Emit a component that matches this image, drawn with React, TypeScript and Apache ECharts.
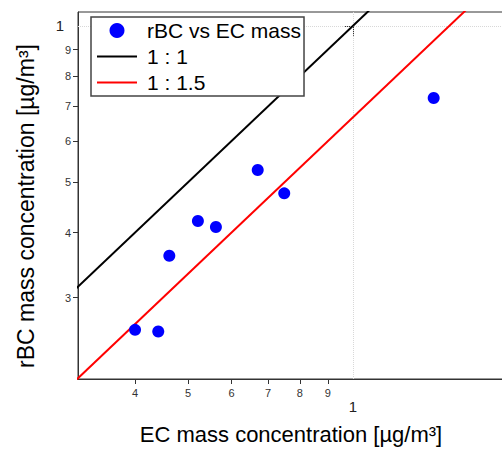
import React, { useEffect, useRef } from "react";
import * as echarts from "echarts";

// EC mass concentration (x) and rBC mass concentration (y), µg/m³
const ecMass = [0.4, 0.441, 0.462, 0.521, 0.562, 0.67, 0.749, 1.404];
const rbcMass = [0.26, 0.258, 0.361, 0.421, 0.41, 0.528, 0.476, 0.726];

// reference lines rBC = EC / ratio
const refLineNames = ["1 : 1", "1 : 1.5"];
const refLineRatios = [1, 1.5];
const refLineColors = ["#000000", "#ff0000"];
const refLineX = [0.25, 2.2];

// tick labels
const xMinorTicks = [0.4, 0.5, 0.6, 0.7, 0.8, 0.9];
const yMinorTicks = [0.3, 0.4, 0.5, 0.6, 0.7, 0.8, 0.9];
const majorTicks = [1];

// axis ranges (data units)
const xRange = [0.3147, 1.887];
const yRange = [0.2091, 1.063];

const L = (v: number) => Math.log10(v);
const FONT = "'Liberation Sans', Arial, Helvetica, sans-serif";
const AXIS_COLOR = "#333";
const LINE_ICON = "path://M0,0H40V2.2H0Z";

export default function App() {
  const ref = useRef<HTMLDivElement>(null);

  useEffect(() => {
    if (!ref.current) return;
    const chart = echarts.init(ref.current, undefined, { renderer: "svg" });

    const xMin = L(xRange[0]);
    const xMax = L(xRange[1]);
    const yMin = L(yRange[0]);
    const yMax = L(yRange[1]);

    const minorFmt = (v: number) => String(Math.round(Math.pow(10, v) * 10));
    const majorFmt = (v: number) => String(Math.round(Math.pow(10, v)));

    const baseX = {
      type: "value",
      min: xMin,
      max: xMax,
      position: "bottom",
      splitLine: { show: false },
      axisLine: { show: true, onZero: false, lineStyle: { color: AXIS_COLOR, width: 1 } },
    };
    const baseY = {
      type: "value",
      min: yMin,
      max: yMax,
      position: "left",
      splitLine: { show: false },
      axisLine: { show: true, onZero: false, lineStyle: { color: AXIS_COLOR, width: 1 } },
    };

    const option: any = {
      animation: false,
      backgroundColor: "#fff",
      textStyle: { fontFamily: FONT },
      grid: {
        left: 78,
        top: 12,
        width: 426,
        height: 367,
        containLabel: false,
        outerBoundsMode: "none",
        show: true,
        borderColor: AXIS_COLOR,
        borderWidth: 1,
        backgroundColor: "transparent",
      },
      legend: {
        orient: "vertical",
        left: 91,
        top: 17,
        data: [
          { name: "rBC vs EC mass", icon: "circle" },
          ...refLineNames.map((n) => ({ name: n, icon: LINE_ICON })),
        ],
        itemWidth: 40,
        itemHeight: 15,
        itemGap: 5,
        padding: [3, 3, 3, 6],
        backgroundColor: "#fff",
        borderColor: "#444",
        borderWidth: 1.5,
        borderRadius: 0,
        textStyle: { fontSize: 21, color: "#000", fontFamily: FONT, padding: [0, 0, 0, 5] },
      },
      xAxis: [
        {
          ...baseX,
          name: "EC mass concentration [µg/m³]",
          nameLocation: "middle",
          nameGap: 44,
          nameTextStyle: { fontSize: 22, color: "#000", fontFamily: FONT },
          axisTick: {
            show: true,
            customValues: xMinorTicks.map(L),
            length: 5,
            lineStyle: { color: AXIS_COLOR },
          },
          axisLabel: {
            customValues: xMinorTicks.map(L),
            formatter: minorFmt,
            fontSize: 11,
            color: "#333",
            margin: 8,
            fontFamily: FONT,
          },
        },
        {
          ...baseX,
          axisLine: { show: false },
          axisTick: {
            show: true,
            customValues: majorTicks.map(L),
            length: 10,
            lineStyle: { color: AXIS_COLOR },
          },
          axisLabel: {
            customValues: majorTicks.map(L),
            formatter: majorFmt,
            fontSize: 15,
            color: "#222",
            margin: 20,
            fontFamily: FONT,
          },
        },
      ],
      yAxis: [
        {
          ...baseY,
          name: "rBC mass concentration [µg/m³]",
          nameLocation: "middle",
          nameGap: 41,
          nameTextStyle: { fontSize: 23, color: "#000", fontFamily: FONT, padding: [0, 21, 0, 0] },
          axisTick: {
            show: true,
            customValues: yMinorTicks.map(L),
            length: 5,
            lineStyle: { color: AXIS_COLOR },
          },
          axisLabel: {
            customValues: yMinorTicks.map(L),
            formatter: minorFmt,
            fontSize: 11,
            color: "#333",
            margin: 7,
            fontFamily: FONT,
          },
        },
        {
          ...baseY,
          axisLine: { show: false },
          axisTick: {
            show: true,
            customValues: majorTicks.map(L),
            length: 9,
            lineStyle: { color: AXIS_COLOR },
          },
          axisLabel: {
            customValues: majorTicks.map(L),
            formatter: majorFmt,
            fontSize: 15,
            color: "#222",
            margin: 14,
            fontFamily: FONT,
          },
        },
      ],
      series: [
        ...refLineNames.map((name, i) => ({
          name,
          type: "line",
          clip: true,
          symbol: "none",
          silent: true,
          lineStyle: { color: refLineColors[i], width: 2 },
          itemStyle: { color: refLineColors[i] },
          data: refLineX.map((x) => [L(x), L(x / refLineRatios[i])]),
          z: 2,
        })),
        {
          name: "rBC vs EC mass",
          type: "scatter",
          symbol: "circle",
          symbolSize: 12,
          itemStyle: { color: "#0000ff", opacity: 1 },
          data: ecMass.map((x, i) => [L(x), L(rbcMass[i])]),
          z: 3,
          markLine: {
            silent: true,
            symbol: "none",
            label: { show: false },
            lineStyle: { color: "#d8d8d8", type: "dotted", width: 1 },
            data: [{ xAxis: L(majorTicks[0]) }, { yAxis: L(majorTicks[0]) }],
            z: 1,
          },
        },
      ],
    };

    chart.setOption(option);
    return () => chart.dispose();
  }, []);

  return (
    <div
      ref={ref}
      style={{ position: "fixed", left: 0, top: 0, width: 502, height: 449 }}
    />
  );
}
